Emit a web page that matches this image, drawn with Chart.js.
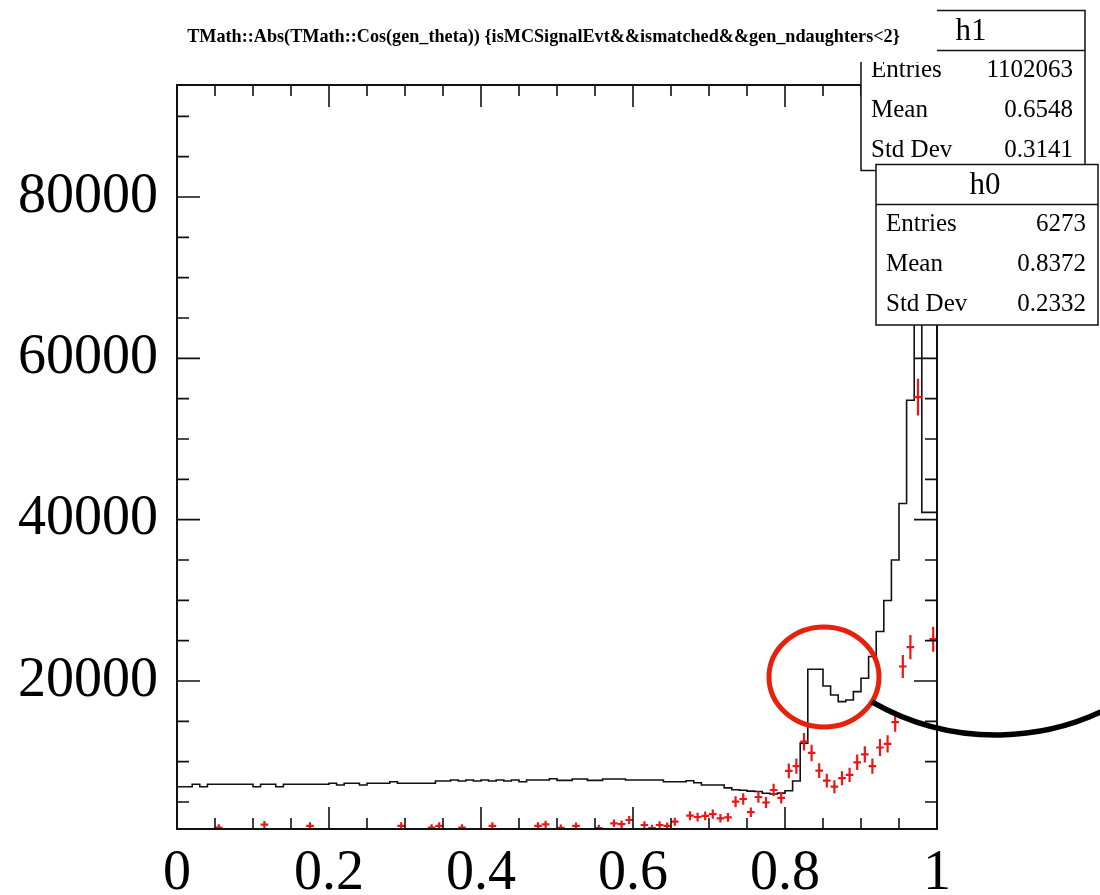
<!DOCTYPE html>
<html>
<head>
<meta charset="utf-8">
<script src="https://cdn.jsdelivr.net/npm/chart.js@4.4.1/dist/chart.umd.min.js"></script>
<style>
  html, body { margin: 0; padding: 0; background: #fff; overflow: hidden; }
  #wrap { width: 1100px; height: 895px; position: relative; }
</style>
</head>
<body>
<div id="wrap"><canvas id="c" width="1100" height="895"></canvas></div>
<script>
// |cos(theta)| histograms, 100 bins between 0 and 1
const nBins = 100;
const binEdges = Array.from({ length: nBins + 1 }, (_, i) => i / nBins);
const binCenters = Array.from({ length: nBins }, (_, i) => (i + 0.5) / nBins);

// h1: all matched signal candidates (drawn as a step line)
const h1Counts = [
  6700, 6900, 6900, 7200, 6900, 7200, 7200, 7200, 7200, 7200,
  7200, 6900, 7200, 7200, 6900, 7200, 7200, 7200, 7200, 7200,
  7200, 7320, 7110, 7320, 7320, 7110, 7320, 7320, 7320, 7520,
  7320, 7320, 7320, 7320, 7320, 7600, 7600, 7730, 7600, 7730,
  7600, 7730, 7600, 7730, 7600, 7730, 7520, 7730, 7730, 7730,
  7880, 7680, 7680, 7850, 7850, 7680, 7680, 7850, 7850, 7850,
  7730, 7730, 7730, 7730, 7730, 7520, 7520, 7520, 7640, 7380,
  7110, 7110, 7110, 6750, 6520, 6450, 6350, 6300, 6080, 6000,
  6100, 6400, 7600, 12300, 21460, 21460, 19390, 18270, 17440, 17650,
  18680, 20340, 23030, 26130, 29980, 35000, 42000, 54800, 86000, 40900
];

// h0: scaled subset (drawn as points with errors)
const h0Counts = [
  1200, 1150, 1250, 1100, 1200, 1815, 1250, 1200, 1150, 1300,
  1250, 2200, 1200, 1300, 1150, 1250, 1200, 2050, 1300, 1250,
  1200, 1300, 1150, 1250, 1300, 1200, 1250, 1300, 1200, 2050,
  1250, 1300, 1200, 1815, 2050, 1300, 1250, 1815, 1300, 1250,
  1300, 2050, 1250, 1300, 1200, 1300, 1250, 2050, 2230, 1300,
  1800, 1300, 2030, 1300, 1250, 1760, 1300, 2360, 2250, 2770,
  1300, 2150, 1780, 2150, 2030, 2560, 1300, 3300, 3140, 3280,
  3510, 2980, 3100, 5040, 5370, 3740, 5620, 4940, 6490, 5520,
  8850, 9450, 12480, 11080, 8900, 7650, 6900, 7950, 8370, 9920,
  10900, 9440, 11760, 12200, 14900, 21800, 24200, 55200, 70000, 25180
];
const h0Weight = 94; // per-entry weight of h0

const xTickLabels = [0, 0.2, 0.4, 0.6, 0.8, 1];
const yTickLabels = [20000, 40000, 60000, 80000];
const yRange = [1654, 93884];

const titleText = 'TMath::Abs(TMath::Cos(gen_theta)) {isMCSignalEvt&&ismatched&&gen_ndaughters<2}';
const statNames = ['Entries', 'Mean', 'Std Dev'];
const h1Stats = ['1102063', '0.6548', '0.3141'];
const h0Stats = ['6273', '0.8372', '0.2332'];

const SERIF = '"Liberation Serif", "Times New Roman", serif';
const RED = '#f01414';

const rootStyle = {
  id: 'rootStyle',
  afterDatasetsDraw(chart) {
    const { ctx, chartArea: a, scales: { x, y } } = chart;

    // h0 points: horizontal bar = bin width, vertical bar = weighted error
    ctx.save();
    ctx.beginPath();
    ctx.rect(a.left, a.top, a.right - a.left, a.bottom - a.top);
    ctx.clip();
    ctx.strokeStyle = RED;
    ctx.lineWidth = 2.2;
    h0Counts.forEach((v, i) => {
      const err = Math.sqrt(v * h0Weight);
      const cx = x.getPixelForValue(binCenters[i]);
      const yc = y.getPixelForValue(v);
      ctx.beginPath();
      ctx.moveTo(x.getPixelForValue(binEdges[i]), yc);
      ctx.lineTo(x.getPixelForValue(binEdges[i + 1]), yc);
      ctx.moveTo(cx, y.getPixelForValue(v - err));
      ctx.lineTo(cx, y.getPixelForValue(v + err));
      ctx.stroke();
    });
    ctx.restore();

    // frame and inward ticks on all four sides
    ctx.save();
    ctx.strokeStyle = '#111';
    ctx.lineWidth = 1.6;
    ctx.beginPath();
    for (let k = 0; k <= 20; k++) {
      const v = k * 0.05;
      const px = x.getPixelForValue(v);
      const len = (k % 4 === 0) ? 22 : 11;
      ctx.moveTo(px, a.bottom); ctx.lineTo(px, a.bottom - len);
      ctx.moveTo(px, a.top); ctx.lineTo(px, a.top + len);
    }
    for (let v = 5000; v < yRange[1]; v += 5000) {
      const py = y.getPixelForValue(v);
      const len = (v % 20000 === 0) ? 23 : 12;
      ctx.moveTo(a.left, py); ctx.lineTo(a.left + len, py);
      ctx.moveTo(a.right, py); ctx.lineTo(a.right - len, py);
    }
    ctx.stroke();
    ctx.lineWidth = 2;
    ctx.strokeRect(a.left, a.top, a.right - a.left, a.bottom - a.top);
    ctx.restore();
  },
  afterDraw(chart) {
    const { ctx } = chart;

    function statBox(b, name, values) {
      ctx.save();
      ctx.fillStyle = '#fff';
      ctx.fillRect(b.x, b.y, b.w, b.h);
      ctx.strokeStyle = '#111';
      ctx.lineWidth = 1.5;
      ctx.strokeRect(b.x, b.y, b.w, b.h);
      ctx.beginPath();
      ctx.moveTo(b.x, b.y + 40);
      ctx.lineTo(b.x + b.w, b.y + 40);
      ctx.stroke();
      ctx.fillStyle = '#000';
      ctx.textBaseline = 'middle';
      ctx.textAlign = 'center';
      ctx.font = '31px ' + SERIF;
      ctx.fillText(name, b.x + b.w / 2 - 2, b.y + 21);
      ctx.font = '25px ' + SERIF;
      statNames.forEach((lab, i) => {
        const ty = b.y + 60 + i * 40;
        ctx.textAlign = 'left';
        ctx.fillText(lab, b.x + 10, ty);
        ctx.textAlign = 'right';
        ctx.fillText(values[i], b.x + b.w - 12, ty);
      });
      ctx.restore();
    }

    statBox({ x: 861, y: 10.5, w: 224, h: 160 }, 'h1', h1Stats);

    // title pave (white, borderless) laid over the first stat box
    ctx.save();
    ctx.fillStyle = '#fff';
    ctx.fillRect(150, 0, 787, 62);
    ctx.fillStyle = '#000';
    let fs = 16;
    ctx.font = 'bold ' + fs + 'px ' + SERIF;
    fs = fs * 713 / ctx.measureText(titleText).width;
    ctx.font = 'bold ' + fs.toFixed(2) + 'px ' + SERIF;
    ctx.textAlign = 'center';
    ctx.textBaseline = 'middle';
    ctx.fillText(titleText, 543.5, 37);
    ctx.restore();

    statBox({ x: 876, y: 164.5, w: 222, h: 160.5 }, 'h0', h0Stats);

    // hand-drawn highlight around the second peak
    ctx.save();
    ctx.strokeStyle = '#e8210c';
    ctx.lineWidth = 5;
    ctx.beginPath();
    ctx.ellipse(824, 677, 55, 50, 0, 0, Math.PI * 2);
    ctx.stroke();
    ctx.strokeStyle = '#000';
    ctx.lineWidth = 5.5;
    ctx.beginPath();
    ctx.arc(996, 486, 249, 119.9 * Math.PI / 180, 58 * Math.PI / 180, true);
    ctx.stroke();
    ctx.restore();
  }
};

new Chart(document.getElementById('c'), {
  type: 'line',
  data: {
    datasets: [{
      label: 'h1',
      data: binEdges.map((e, i) => ({ x: e, y: h1Counts[Math.min(i, nBins - 1)] })),
      stepped: 'after',
      borderColor: '#111',
      borderWidth: 1.6,
      pointRadius: 0,
      fill: false
    }, {
      label: 'h0',
      type: 'scatter',
      data: binCenters.map((c, i) => ({ x: c, y: h0Counts[i] })),
      pointRadius: 0,
      showLine: false
    }]
  },
  options: {
    responsive: false,
    animation: false,
    devicePixelRatio: 1,
    layout: { padding: { left: 0, right: 163, top: 85, bottom: 0 } },
    plugins: { legend: { display: false }, title: { display: false }, tooltip: { enabled: false } },
    scales: {
      x: {
        type: 'linear', min: 0, max: 1,
        grid: { display: false }, border: { display: false },
        afterBuildTicks: s => { s.ticks = xTickLabels.map(v => ({ value: v })); },
        afterFit: s => { s.height = 66; },
        ticks: {
          autoSkip: false, maxRotation: 0, padding: 4, color: '#000',
          font: { family: SERIF, size: 56 },
          callback: v => String(v)
        }
      },
      y: {
        type: 'linear', min: yRange[0], max: yRange[1],
        grid: { display: false }, border: { display: false },
        afterBuildTicks: s => { s.ticks = yTickLabels.map(v => ({ value: v })); },
        afterFit: s => { s.width = 177; },
        ticks: {
          autoSkip: false, padding: 11, color: '#000',
          font: { family: SERIF, size: 56 },
          callback: v => String(v)
        }
      }
    }
  },
  plugins: [rootStyle]
});
</script>
</body>
</html>
